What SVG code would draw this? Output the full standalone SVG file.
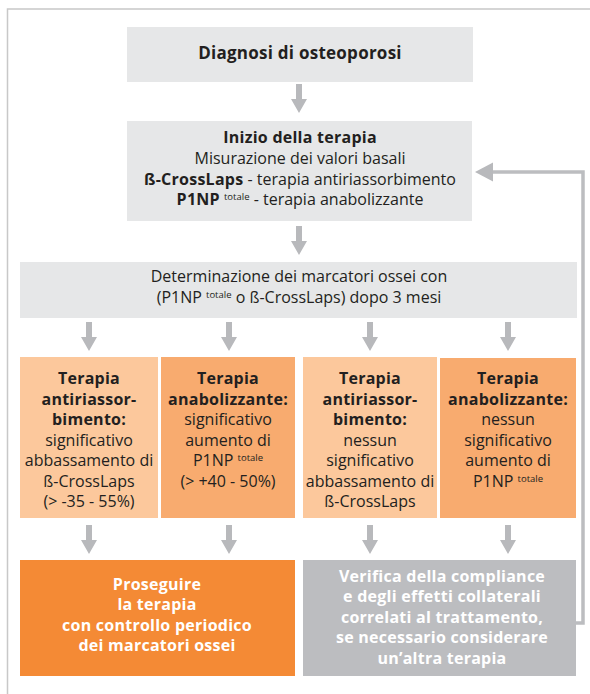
<svg xmlns="http://www.w3.org/2000/svg" width="590" height="694" viewBox="0 0 590 694">
<style>
.t{font-family:"Open Sans","Liberation Sans",sans-serif;font-size:16px;fill:#231f20;text-anchor:middle}
.b{font-weight:bold;font-size:16px;letter-spacing:0.25px}
.w{fill:#ffffff;font-weight:bold;font-size:16px;letter-spacing:0.25px}
.sup{font-size:9.5px;font-weight:normal;letter-spacing:0}
.g{fill:#e6e7e8}
.lo{fill:#fcc89c}
.do{fill:#f8ab6f}
.or{fill:#f48a35}
.gr{fill:#bcbdc0}
.arr{fill:#b8b9bc}
</style>
<defs>
<path id="da" d="M-3,0 H3 V15 H8 L0,29 L-8,15 H-3 Z"/>
</defs>
<rect width="590" height="694" fill="#ffffff"/>
<path d="M7.5,694 V9 H590" fill="none" stroke="#c8c8c8" stroke-width="1.5"/>

<g id="connectors" class="arr">
<use href="#da" x="299" y="84"/>
<use href="#da" x="299" y="226"/>
<use href="#da" x="89" y="322"/>
<use href="#da" x="229" y="322"/>
<use href="#da" x="370" y="322"/>
<use href="#da" x="508" y="322"/>
<use href="#da" x="89" y="525"/>
<use href="#da" x="229" y="525"/>
<use href="#da" x="370" y="525"/>
<use href="#da" x="508" y="525"/>
<polyline points="576,623 583,623 583,172 490,172" fill="none" stroke="#bcbdc0" stroke-width="3.5"/>
<polygon points="475,172 493,162.5 493,181.5"/>
</g>

<g id="n1">
<rect class="g" x="127" y="27" width="346" height="55"/>
<text class="t b" x="300" y="59" style="font-size:17px">Diagnosi di osteoporosi</text>
</g>

<g id="n2">
<rect class="g" x="127" y="121" width="345" height="100"/>
<text class="t b" x="300" y="143">Inizio della terapia</text>
<text class="t" x="300" y="164">Misurazione dei valori basali</text>
<text class="t" x="300" y="184.5"><tspan class="b">ß-CrossLaps</tspan> - terapia antiriassorbimento</text>
<text class="t" x="300" y="205"><tspan class="b">P1NP</tspan> <tspan class="sup" dy="-5">totale</tspan><tspan dy="5"> - terapia anabolizzante</tspan></text>
</g>

<g id="n3">
<rect class="g" x="20" y="262" width="557" height="56"/>
<text class="t" x="299" y="282">Determinazione dei marcatori ossei con</text>
<text class="t" x="299" y="302.5">(P1NP <tspan class="sup" dy="-5">totale</tspan><tspan dy="5"> o ß-CrossLaps) dopo 3 mesi</tspan></text>
</g>

<g id="n4">
<rect class="lo" x="20" y="357" width="138" height="161"/>
<text class="t b" x="89" y="384">Terapia</text>
<text class="t b" x="89" y="404.5">antiriassor-</text>
<text class="t b" x="89" y="425">bimento:</text>
<text class="t" x="89" y="445.5">significativo</text>
<text class="t" x="89" y="466">abbassamento di</text>
<text class="t" x="89" y="486.5">ß-CrossLaps</text>
<text class="t" x="89" y="507">(&gt; -35 - 55%)</text>
</g>

<g id="n5">
<rect class="do" x="161" y="357" width="134" height="161"/>
<text class="t b" x="228" y="384">Terapia</text>
<text class="t b" x="228" y="404.5">anabolizzante:</text>
<text class="t" x="228" y="425">significativo</text>
<text class="t" x="228" y="445.5">aumento di</text>
<text class="t" x="228" y="466">P1NP <tspan class="sup" dy="-5">totale</tspan></text>
<text class="t" x="228" y="486.5">(&gt; +40 - 50%)</text>
</g>

<g id="n6">
<rect class="lo" x="303" y="357" width="134" height="161"/>
<text class="t b" x="370" y="384">Terapia</text>
<text class="t b" x="370" y="404.5">antiriassor-</text>
<text class="t b" x="370" y="425">bimento:</text>
<text class="t" x="370" y="445.5">nessun</text>
<text class="t" x="370" y="466">significativo</text>
<text class="t" x="370" y="486.5">abbassamento di</text>
<text class="t" x="370" y="507">ß-CrossLaps</text>
</g>

<g id="n7">
<rect class="do" x="440" y="358" width="136" height="160"/>
<text class="t b" x="508" y="384">Terapia</text>
<text class="t b" x="508" y="404.5">anabolizzante:</text>
<text class="t" x="508" y="425">nessun</text>
<text class="t" x="508" y="445.5">significativo</text>
<text class="t" x="508" y="466">aumento di</text>
<text class="t" x="508" y="486.5">P1NP <tspan class="sup" dy="-5">totale</tspan></text>
</g>

<g id="n8">
<rect class="or" x="20" y="560" width="275" height="116"/>
<text class="t w" x="157" y="589.5">Proseguire</text>
<text class="t w" x="157" y="610">la terapia</text>
<text class="t w" x="157" y="630.5">con controllo periodico</text>
<text class="t w" x="157" y="651">dei marcatori ossei</text>
</g>

<g id="n9">
<rect class="gr" x="303" y="560" width="273" height="116"/>
<text class="t w" x="442" y="581.5">Verifica della compliance</text>
<text class="t w" x="442" y="602">e degli effetti collaterali</text>
<text class="t w" x="442" y="622.5">correlati al trattamento,</text>
<text class="t w" x="442" y="643">se necessario considerare</text>
<text class="t w" x="442" y="663.5">un’altra terapia</text>
</g>
</svg>
